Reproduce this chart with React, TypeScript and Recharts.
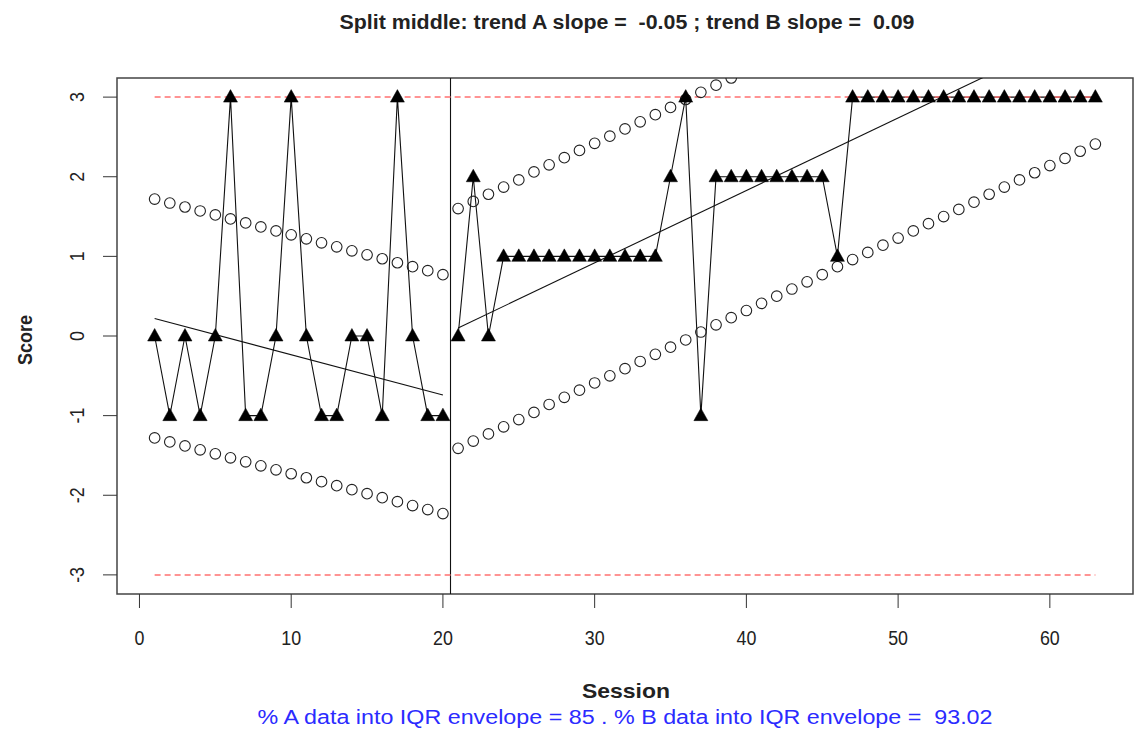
import React from "react";
import {
  ComposedChart,
  Line,
  Scatter,
  XAxis,
  YAxis,
  ReferenceLine,
  ReferenceArea,
} from "recharts";

// ---------- data ----------
const sessionsA = [1, 2, 3, 4, 5, 6, 7, 8, 9, 10, 11, 12, 13, 14, 15, 16, 17, 18, 19, 20];
const scoresA = [0, -1, 0, -1, 0, 3, -1, -1, 0, 3, 0, -1, -1, 0, 0, -1, 3, 0, -1, -1];
const upperA = [1.72, 1.67, 1.62, 1.57, 1.52, 1.47, 1.42, 1.37, 1.32, 1.27, 1.22, 1.17, 1.12, 1.07, 1.02, 0.97, 0.92, 0.87, 0.82, 0.77];
const lowerA = [-1.28, -1.33, -1.38, -1.43, -1.48, -1.53, -1.58, -1.63, -1.68, -1.73, -1.78, -1.83, -1.88, -1.93, -1.98, -2.03, -2.08, -2.13, -2.18, -2.23];

const sessionsB = [21, 22, 23, 24, 25, 26, 27, 28, 29, 30, 31, 32, 33, 34, 35, 36, 37, 38, 39, 40, 41, 42,
  43, 44, 45, 46, 47, 48, 49, 50, 51, 52, 53, 54, 55, 56, 57, 58, 59, 60, 61, 62, 63];
const scoresB = [0, 2, 0, 1, 1, 1, 1, 1, 1, 1, 1, 1, 1, 1, 2, 3, -1, 2, 2, 2, 2, 2,
  2, 2, 2, 1, 3, 3, 3, 3, 3, 3, 3, 3, 3, 3, 3, 3, 3, 3, 3, 3, 3];
const upperB = [1.6, 1.69, 1.78, 1.87, 1.96, 2.06, 2.15, 2.24, 2.33, 2.42, 2.51, 2.6, 2.69, 2.78, 2.87, 2.97, 3.06, 3.15, 3.24, 3.33, 3.42, 3.51,
  3.6, 3.69, 3.78, 3.88, 3.97, 4.06, 4.15, 4.24, 4.33, 4.42, 4.51, 4.6, 4.69, 4.79, 4.88, 4.97, 5.06, 5.15, 5.24, 5.33, 5.42];
const lowerB = [-1.41, -1.32, -1.23, -1.14, -1.05, -0.96, -0.86, -0.77, -0.68, -0.59, -0.5, -0.41, -0.32, -0.23, -0.14, -0.05, 0.05, 0.14, 0.23, 0.32, 0.41, 0.5,
  0.59, 0.68, 0.77, 0.87, 0.96, 1.05, 1.14, 1.23, 1.32, 1.41, 1.5, 1.59, 1.68, 1.78, 1.87, 1.96, 2.05, 2.14, 2.23, 2.32, 2.41];

const trendASessions = [1, 20];
const trendAValues = [0.22, -0.74];
const trendBSessions = [21, 63];
const trendBValues = [0.1, 3.92];

const limitValues = [3, -3];
const limitSessions = [1, 63];
const phaseChange = 20.5;

const xTicks = [0, 10, 20, 30, 40, 50, 60];
const yTicks = [-3, -2, -1, 0, 1, 2, 3];
const xDomain: [number, number] = [-1.48, 65.48];
const yDomain: [number, number] = [-3.24, 3.24];

const titleText = "Split middle: trend A slope =  -0.05 ; trend B slope =  0.09";
const subtitleText = "% A data into IQR envelope = 85 . % B data into IQR envelope =  93.02";
const xLabel = "Session";
const yLabel = "Score";

// ---------- build ----------
const zip = (xs: number[], ys: number[]) => xs.map((x, i) => ({ x, y: ys[i] }));
const dataA = zip(sessionsA, scoresA);
const dataB = zip(sessionsB, scoresB);
const upA = zip(sessionsA, upperA);
const loA = zip(sessionsA, lowerA);
const upB = zip(sessionsB, upperB);
const loB = zip(sessionsB, lowerB);
const trA = zip(trendASessions, trendAValues);
const trB = zip(trendBSessions, trendBValues);

const FONT = "'Liberation Sans', Arial, Helvetica, sans-serif";
const PRE = { whiteSpace: "pre" as const };

const Triangle = (props: any) => {
  const { cx, cy } = props;
  if (cx == null || cy == null) return null;
  return (
    <polygon
      points={`${cx},${cy - 7.5} ${cx - 7},${cy + 5} ${cx + 7},${cy + 5}`}
      fill="#000"
      stroke="#000"
      strokeWidth={0.5}
    />
  );
};

const OpenCircle = (props: any) => {
  const { cx, cy } = props;
  if (cx == null || cy == null) return null;
  return <circle cx={cx} cy={cy} r={5.3} fill="none" stroke="#222" strokeWidth={1.1} />;
};

const XTick = (props: any) => {
  const { x, y, payload } = props;
  return (
    <g transform={`translate(${x}, ${y + 27}) scale(0.85, 1)`}>
      <text x={0} y={0} dy="0.36em" textAnchor="middle" fontFamily={FONT} fontSize={21} fill="#222">
        {payload.value}
      </text>
    </g>
  );
};

const YTick = (props: any) => {
  const { x, y, payload } = props;
  const cx = x - 25;
  return (
    <g transform={`translate(${cx}, ${y}) rotate(-90) scale(0.85, 1)`}>
      <text x={0} y={0} dy="0.36em" textAnchor="middle" fontFamily={FONT} fontSize={21} fill="#222">
        {payload.value}
      </text>
    </g>
  );
};

export default function App() {
  return (
    <div style={{ position: "relative", width: 1137, height: 733, background: "#fff" }}>
      <style>{`body{margin:0;}`}</style>
      <ComposedChart
        width={1137}
        height={733}
        margin={{ top: 78, right: 4, bottom: 99, left: 57 }}
      >
        <XAxis
          type="number"
          dataKey="x"
          domain={xDomain}
          ticks={xTicks}
          interval={0}
          allowDataOverflow
          axisLine={false}
          tickSize={14}
          tickLine={{ stroke: "#333", strokeWidth: 1 }}
          tick={<XTick />}
          height={40}
        />
        <YAxis
          type="number"
          dataKey="y"
          domain={yDomain}
          ticks={yTicks}
          interval={0}
          allowDataOverflow
          axisLine={false}
          tickSize={14}
          tickLine={{ stroke: "#333", strokeWidth: 1 }}
          tick={<YTick />}
          width={60}
        />
        <Scatter data={upA} dataKey="y" shape={<OpenCircle />} isAnimationActive={false} />
        <Scatter data={loA} dataKey="y" shape={<OpenCircle />} isAnimationActive={false} />
        <Scatter data={upB} dataKey="y" shape={<OpenCircle />} isAnimationActive={false} />
        <Scatter data={loB} dataKey="y" shape={<OpenCircle />} isAnimationActive={false} />
        <Line data={trA} dataKey="y" type="linear" stroke="#111" strokeWidth={1.1} dot={false} activeDot={false} isAnimationActive={false} />
        <Line data={trB} dataKey="y" type="linear" stroke="#111" strokeWidth={1.1} dot={false} activeDot={false} isAnimationActive={false} />
        <Line data={dataA} dataKey="y" type="linear" stroke="#111" strokeWidth={1.1} dot={<Triangle />} activeDot={false} isAnimationActive={false} />
        <Line data={dataB} dataKey="y" type="linear" stroke="#111" strokeWidth={1.1} dot={<Triangle />} activeDot={false} isAnimationActive={false} />
        <ReferenceLine x={phaseChange} stroke="#111" strokeWidth={1.1} />
        {limitValues.map((v) => (
          <ReferenceLine
            key={v}
            segment={[
              { x: limitSessions[0], y: v },
              { x: limitSessions[1], y: v },
            ]}
            stroke="#ff7070"
            strokeWidth={1.5}
            strokeDasharray="6 4"
          />
        ))}
        <ReferenceArea
          x1={xDomain[0]}
          x2={xDomain[1]}
          y1={yDomain[0]}
          y2={yDomain[1]}
          fill="none"
          fillOpacity={0}
          stroke="#444"
          strokeWidth={1.5}
          ifOverflow="visible"
        />
      </ComposedChart>
      <svg
        width={1137}
        height={733}
        style={{ position: "absolute", left: 0, top: 0, pointerEvents: "none" }}
      >
        <text x={627} y={22} dy="0.36em" textAnchor="middle" fontFamily={FONT} fontWeight="bold" fontSize={20} fill="#222" textLength={575} lengthAdjust="spacingAndGlyphs" style={PRE}>
          {titleText}
        </text>
        <text x={626} y={690} dy="0.36em" textAnchor="middle" fontFamily={FONT} fontWeight="bold" fontSize={21} fill="#222" textLength={88} lengthAdjust="spacingAndGlyphs" style={PRE}>
          {xLabel}
        </text>
        <text x={625} y={717} dy="0.36em" textAnchor="middle" fontFamily={FONT} fontSize={20} fill="#2b2bff" textLength={735} lengthAdjust="spacingAndGlyphs" style={PRE}>
          {subtitleText}
        </text>
        <text x={24} y={340} dy="0.36em" textAnchor="middle" fontFamily={FONT} fontWeight="bold" fontSize={21} fill="#222" transform="rotate(-90, 24, 340)" textLength={50} lengthAdjust="spacingAndGlyphs" style={PRE}>
          {yLabel}
        </text>
      </svg>
    </div>
  );
}
